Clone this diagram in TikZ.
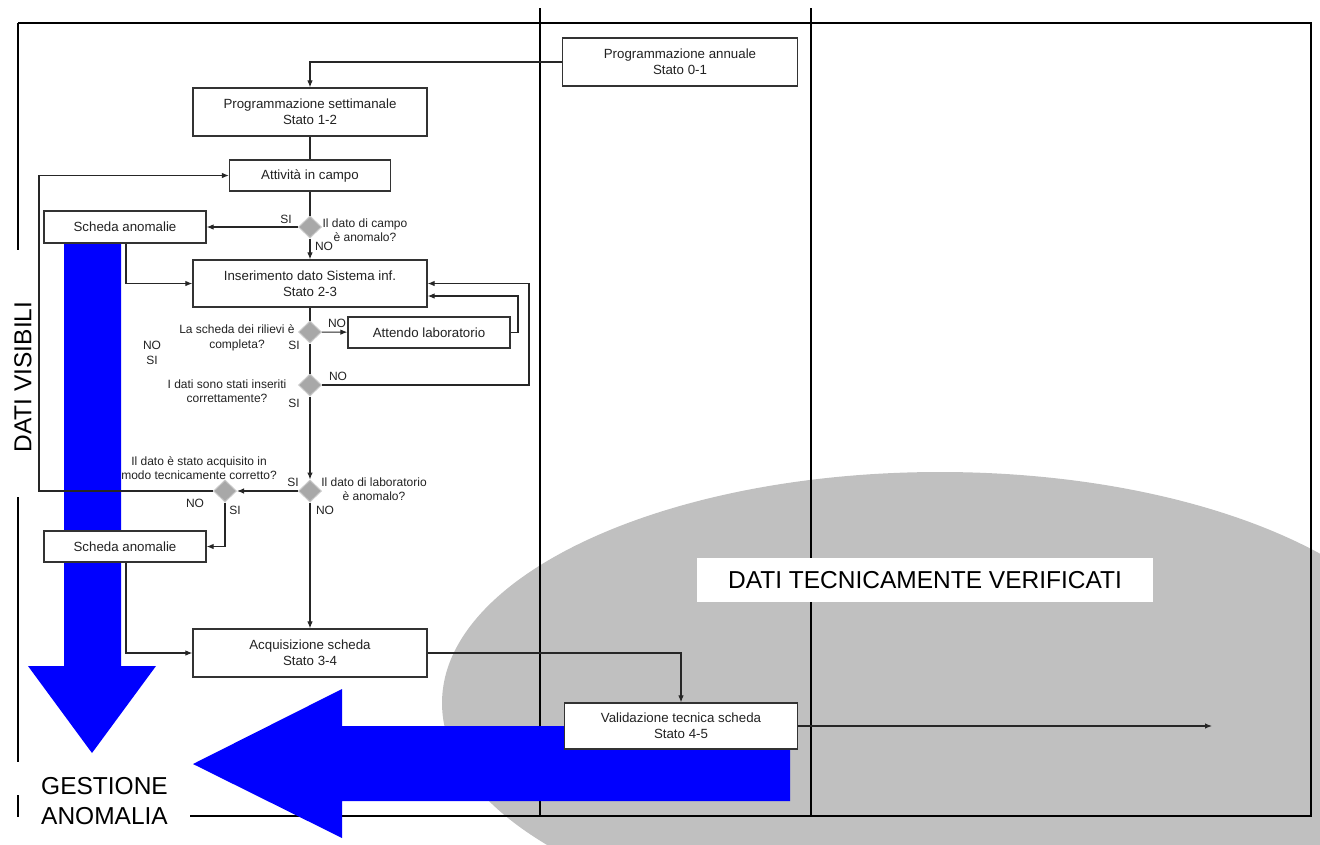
\documentclass[tikz,border=0pt]{standalone}
\usepackage{fontspec}
\setmainfont{Liberation Sans}
\usetikzlibrary{shapes.geometric,arrows.meta}
\definecolor{ellgray}{HTML}{C0C0C0}
\definecolor{decgray}{HTML}{A8A8A8}
\definecolor{decline}{HTML}{C8C8C8}
\definecolor{bblue}{HTML}{0000FF}
\definecolor{txt}{HTML}{222222}
\begin{document}
\begin{tikzpicture}[x=1pt,y=-1pt,
  frame/.style={line width=2, black},
  conn/.style={line width=1.1, black!85},
  arr/.style={conn, -{Latex[length=7,width=5.5]}},
  box/.style={draw=black!80, line width=1.2, fill=white, inner sep=0, align=center, text=txt,
     font=\fontsize{13.3}{16}\selectfont},
  dec/.style={diamond, draw=decline, line width=1, fill=decgray, minimum width=23, minimum height=22, inner sep=0},
  lab/.style={inner sep=0, align=center, text=txt, font=\fontsize{12}{14.5}\selectfont},
  big/.style={inner sep=0, text=black, font=\fontsize{24.5}{30}\selectfont}
]
\useasboundingbox (0,0) rectangle (1320,844);
% grey ellipse
\begin{scope}
  \clip (0,0) rectangle (1320,844);
  \fill[ellgray] (940,703) ellipse [x radius=498, y radius=231];
\end{scope}
% frame and lanes
\draw[frame] (18,23) -- (1311,23) -- (1311,816) -- (190,816);
\draw[frame] (540,8) -- (540,816);
\draw[frame] (811,8) -- (811,816);
\draw[frame] (18,23) -- (18,250);
\draw[frame] (18,497) -- (18,762);
\draw[frame] (18,795) -- (18,817);
% blue arrows
\fill[bblue] (64,243) -- (121,243) -- (121,666) -- (156,666) -- (92,753) -- (28,666) -- (64,666) -- cycle;
\fill[bblue] (790,726) -- (342,726) -- (342,689) -- (193,764) -- (342,838) -- (342,801) -- (790,801) -- cycle;
% nodes
\node[box, minimum width=235, minimum height=48] (annual) at (680,62) {Programmazione annuale\\Stato 0-1};
\node[box, minimum width=234, minimum height=48] (weekly) at (310,112) {Programmazione settimanale\\Stato 1-2};
\node[box, minimum width=161, minimum height=31] (attivita) at (310,175.5) {Attività in campo};
\node[dec] (d1) at (310,227) {};
\node[box, minimum width=162, minimum height=32] (scheda1) at (125,227) {Scheda anomalie};
\node[box, minimum width=234, minimum height=47] (ins) at (310,283.5) {Inserimento dato Sistema inf.\\Stato 2-3};
\node[dec] (d2) at (310,332) {};
\node[box, minimum width=162, minimum height=31] (attendo) at (429,332.5) {Attendo laboratorio};
\node[dec] (d3) at (310,385) {};
\node[dec] (d4) at (310,491) {};
\node[dec] (d5) at (225,491) {};
\node[box, minimum width=162, minimum height=31] (scheda2) at (125,546.5) {Scheda anomalie};
\node[box, minimum width=234, minimum height=48] (acq) at (310,653) {Acquisizione scheda\\Stato 3-4};
\node[box, minimum width=233, minimum height=46] (valid) at (681,726) {Validazione tecnica scheda\\Stato 4-5};
\coordinate (endarr) at (1212,726);
% connectors
\draw[arr] (annual.west) -| (weekly.north);
\draw[conn] (weekly) -- (attivita);
\draw[conn] (attivita) -- (d1);
\draw[arr] (d1) -- (scheda1);
\draw[arr] (d1) -- (ins);
\draw[arr] ([xshift=1pt]scheda1.south) |- (ins.west);
\draw[conn] (ins) -- (d2);
\draw[arr] (d2) -- (attendo);
\draw[arr] (attendo.east) -- (518,332.5) |- (ins.east |- 0,296);
\draw[conn] (d2) -- (d3);
\draw[arr] (d3.east) -- (529,385) |- (ins.east);
\draw[arr] (d3) -- (d4);
\draw[arr] (d4) -- (d5);
\draw[arr] (d5.west) -- (39,491) |- (attivita.west);
\draw[arr] (d5.south) |- (scheda2.east);
\draw[arr] (d4) -- (acq);
\draw[arr] ([xshift=1pt]scheda2.south) |- (acq.west);
\draw[arr] (acq.east) -| (valid.north);
\draw[arr] (valid.east) -- (endarr);
% labels
\node[lab] (l1si) at (286,219) {SI};
\node[lab] (l1no) at (324,246) {NO};
\node[lab] (l1q) at (365,230) {Il dato di campo\\è anomalo?};
\node[lab] (l2no) at (337,323) {NO};
\node[lab] (l2si) at (294,345) {SI};
\node[lab] (l2q) at (237,338) {La scheda dei rilievi è\\completa?};
\node[lab] (lorph) at (152,353) {NO\\SI};
\node[lab] (l3q) at (227,391) {I dati sono stati inseriti\\correttamente?};
\node[lab] (l3no) at (338,376) {NO};
\node[lab] (l3si) at (294,403) {SI};
\node[lab] (l4q) at (374,489) {Il dato di laboratorio\\è anomalo?};
\node[lab] (l4si) at (293,482) {SI};
\node[lab] (l4no) at (325,510) {NO};
\node[lab] (l5q) at (199,468) {Il dato è stato acquisito in\\modo tecnicamente corretto?};
\node[lab] (l5no) at (195,503) {NO};
\node[lab] (l5si) at (235,510) {SI};
% big texts
\node[big, fill=white, minimum width=456, minimum height=44] (verif) at (925,580) {DATI TECNICAMENTE VERIFICATI};
\node[big, anchor=west, align=left] (gest) at (41,801) {GESTIONE\\ANOMALIA};
\node[big, rotate=90] (visib) at (23,377) {DATI VISIBILI};
\end{tikzpicture}
\end{document}
